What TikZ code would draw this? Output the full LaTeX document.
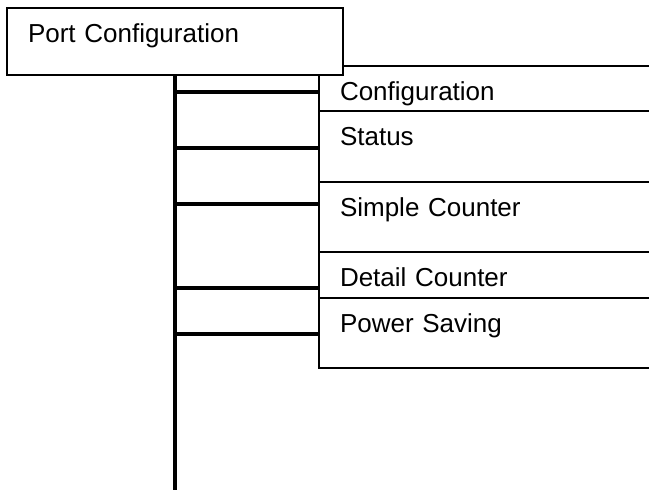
\documentclass[tikz,border=0pt]{standalone}
\usepackage{fontspec}
\setmainfont{Liberation Sans}
\usetikzlibrary{positioning}

\tikzset{
	menubox/.style={draw, fill=white, line width=1.2pt, anchor=north west, outer sep=0pt,
		inner xsep=21pt, inner ysep=0pt, text height=34pt, align=left,
		font=\fontsize{26}{30}\selectfont},
	stem/.style={line width=3.5pt}
}

\begin{document}
\begin{tikzpicture}[x=1pt,y=-1pt]
	\useasboundingbox (0,0) rectangle (649,490);
	\clip (0,0) rectangle (649,490);
	% Menu entries
	\node[menubox, text width=318pt, text depth=11pt] (cfg) at (319,66) {Configuration};
	\node[menubox, text width=318pt, text depth=37pt] (sts) at (319,111) {Status};
	\node[menubox, text width=318pt, text depth=36pt] (smp) at (319,182) {Simple Counter};
	\node[menubox, text width=318pt, text depth=12pt] (dtl) at (319,252) {Detail Counter};
	\node[menubox, text width=318pt, text depth=36pt] (pwr) at (319,298) {Power Saving};
	% Root
	\node[menubox, text width=294pt, text depth=33pt] (port) at (7,8) {Port Configuration};
	% Trunk
	\coordinate (trunk) at (175,75);
	\coordinate (trunkend) at (175,495);
	\draw[stem] (trunk) -- (trunkend);
	% Branches
	\foreach \n/\d in {cfg/26, sts/37, smp/22, dtl/36, pwr/36}
		\draw[stem] (\n.north west) ++(0,\d) coordinate (b) -- (b -| trunk);
\end{tikzpicture}
\end{document}
